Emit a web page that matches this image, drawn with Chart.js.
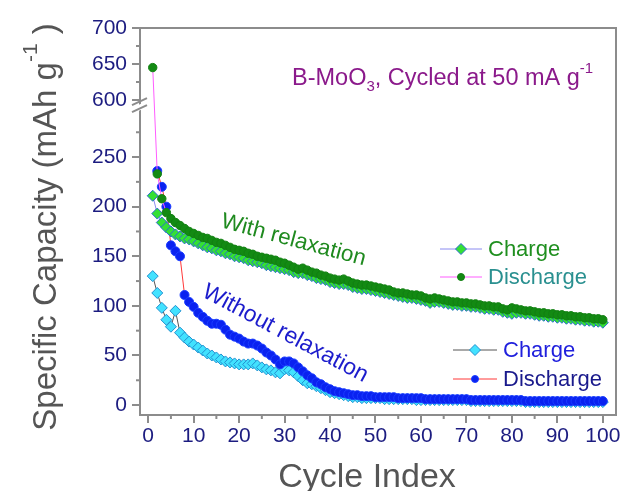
<!DOCTYPE html>
<html>
<head>
<meta charset="utf-8">
<script src="https://cdn.jsdelivr.net/npm/chart.js@4.4.0/dist/chart.umd.min.js"></script>
<style>
  html, body { margin: 0; padding: 0; background: #fff; }
  #wrap { width: 627px; height: 491px; }
</style>
</head>
<body>
<div id="wrap"><canvas id="cap" width="627" height="491"></canvas></div>
<script>
const cycles = [1,2,3,4,5,6,7,8,9,10,11,12,13,14,15,16,17,18,19,20,
  21,22,23,24,25,26,27,28,29,30,31,32,33,34,35,36,37,38,39,40,
  41,42,43,44,45,46,47,48,49,50,51,52,53,54,55,56,57,58,59,60,
  61,62,63,64,65,66,67,68,69,70,71,72,73,74,75,76,77,78,79,80,
  81,82,83,84,85,86,87,88,89,90,91,92,93,94,95,96,97,98,99,100];

// with relaxation
const withCharge = [211,193,184,179,175,172,170,168,167,165,
  163,161,159,158,156,155,153,152,150,149,
  148,146,145,144,143,141,140,139,138,137,
  136,134,133,133,131,130,128,127,126,124,
  123,122,122,121,119,118,117,117,116,115,
  114,113,112,111,110,109,108,108,107,106,
  105,103,104,104,103,102,101,101,100,100,
  99,99,98,97,97,96,96,94,93,92,
  93,93,92,92,91,90,90,89,89,88,
  88,87,87,86,86,85,85,84,84,83];
const withDischarge = [645,233,208,194,188,184,181,178,175,173,
  171,169,168,166,164,163,161,159,157,156,
  155,153,152,150,149,148,147,146,144,143,
  141,139,137,138,136,134,133,131,130,128,
  127,126,127,125,123,122,121,121,120,119,
  118,117,116,114,113,113,112,111,111,110,
  108,107,108,107,106,105,104,104,103,103,
  102,102,101,100,100,99,99,97,96,98,
  97,96,95,95,94,93,93,92,92,91,
  91,90,90,89,89,88,88,87,87,86];

// without relaxation
const withoutCharge = [130,113,98,86,79,95,73,68,64,61,
  58,55,52,50,48,46,44,43,42,41,
  41,41,42,40,38,36,35,33,32,36,
  35,33,29,25,22,21,19,17,15,13,
  12,11,10,9,8,8,7,7,7,7,
  7,6,6,6,6,6,6,6,5,5,
  5,5,5,5,5,5,5,5,5,5,
  4,4,4,4,4,4,4,4,4,4,
  4,4,3,3,3,3,3,3,3,3,
  3,3,3,3,3,3,3,3,3,3];
const withoutDischarge = [null,236,220,200,161,155,150,111,104,99,
  93,89,85,82,82,81,76,71,69,67,
  64,62,62,60,57,53,50,46,41,44,
  44,42,38,34,30,27,23,21,18,16,
  14,13,12,11,10,10,9,9,9,8,
  8,8,8,8,7,7,7,7,7,7,
  6,6,6,6,6,6,6,6,6,6,
  5,5,5,5,5,5,5,5,5,5,
  5,5,4,4,4,4,4,4,4,4,
  4,4,4,4,4,4,4,4,4,4];

const yMajorTicks = [0, 50, 100, 150, 200, 250, 600, 650, 700];
const yMinorTicks = [25, 75, 125, 175, 225, 275, 625, 675];
const xMajorTicks = [0, 10, 20, 30, 40, 50, 60, 70, 80, 90, 100];
const xMinorTicks = [5, 15, 25, 35, 45, 55, 65, 75, 85, 95];

const AXIS = '#8c8c8c';
const TICKTXT = '#1c1c80';
const FONT = '"Liberation Sans", Arial, Helvetica, sans-serif';

// broken y axis: lower part -10..297, upper part 600..700
const LOW_MIN = -10, LOW_MAX = 297, UP_MIN = 600, UP_MAX = 700;
const LOW_TOP = 0.787, UP_BOTTOM = 0.814;

function toDecimal(v) {
  if (v === null || v === undefined || isNaN(v)) return NaN;
  if (v <= LOW_MAX) return (v - LOW_MIN) / (LOW_MAX - LOW_MIN) * LOW_TOP;
  if (v >= UP_MIN) return UP_BOTTOM + (v - UP_MIN) / (UP_MAX - UP_MIN) * (1 - UP_BOTTOM);
  return LOW_TOP + (v - LOW_MAX) / (UP_MIN - LOW_MAX) * (UP_BOTTOM - LOW_TOP);
}
function fromDecimal(d) {
  if (d <= LOW_TOP) return LOW_MIN + d / LOW_TOP * (LOW_MAX - LOW_MIN);
  if (d >= UP_BOTTOM) return UP_MIN + (d - UP_BOTTOM) / (1 - UP_BOTTOM) * (UP_MAX - UP_MIN);
  return LOW_MAX + (d - LOW_TOP) / (UP_BOTTOM - LOW_TOP) * (UP_MIN - LOW_MAX);
}

class BrokenScale extends Chart.LinearScale {
  getPixelForValue(value) { return this.getPixelForDecimal(toDecimal(value)); }
  getValueForPixel(pixel) { return fromDecimal(this.getDecimalForPixel(pixel)); }
}
BrokenScale.id = 'broken';
BrokenScale.defaults = Chart.LinearScale.defaults;
Chart.register(BrokenScale);

function pts(series) {
  return cycles.map((c, i) => ({ x: c, y: series[i] }));
}

function marker(ctx, style, x, y, r, fill, stroke) {
  ctx.beginPath();
  if (style === 'rectRot') {
    ctx.moveTo(x - r, y); ctx.lineTo(x, y - r); ctx.lineTo(x + r, y); ctx.lineTo(x, y + r);
    ctx.closePath();
  } else {
    ctx.arc(x, y, r, 0, Math.PI * 2);
  }
  ctx.fillStyle = fill; ctx.fill();
  ctx.strokeStyle = stroke; ctx.lineWidth = 1; ctx.stroke();
}

// text with sub/superscript parts: [text, size, dy]
function richText(ctx, parts, x, y, color) {
  ctx.fillStyle = color;
  ctx.textBaseline = 'alphabetic';
  ctx.textAlign = 'left';
  let cx = x;
  parts.forEach(p => {
    ctx.font = p[1] + 'px ' + FONT;
    ctx.fillText(p[0], cx, y + p[2]);
    cx += ctx.measureText(p[0]).width;
  });
}
function richWidth(ctx, parts) {
  let w = 0;
  parts.forEach(p => { ctx.font = p[1] + 'px ' + FONT; w += ctx.measureText(p[0]).width; });
  return w;
}

const decor = {
  id: 'decor',
  afterDraw(chart) {
    const { ctx, chartArea: a } = chart;
    const x = chart.scales.x, y = chart.scales.y;
    ctx.save();

    // frame top + right
    ctx.strokeStyle = AXIS; ctx.lineWidth = 2;
    ctx.beginPath();
    ctx.moveTo(a.left, a.top); ctx.lineTo(a.right, a.top); ctx.lineTo(a.right, a.bottom);
    ctx.stroke();

    // minor ticks
    ctx.lineWidth = 2;
    yMinorTicks.forEach(v => {
      const py = y.getPixelForValue(v);
      ctx.beginPath(); ctx.moveTo(a.left - 4, py); ctx.lineTo(a.left, py); ctx.stroke();
    });
    xMinorTicks.forEach(v => {
      const px = x.getPixelForValue(v);
      ctx.beginPath(); ctx.moveTo(px, a.bottom); ctx.lineTo(px, a.bottom + 4); ctx.stroke();
    });

    // axis break
    const yb = (y.getPixelForValue(LOW_MAX) + y.getPixelForValue(UP_MIN)) / 2;
    ctx.fillStyle = '#fff';
    ctx.beginPath();
    ctx.moveTo(a.left - 4, yb + 1); ctx.lineTo(a.left + 4, yb - 3);
    ctx.lineTo(a.left + 4, yb + 3); ctx.lineTo(a.left - 4, yb + 7);
    ctx.closePath(); ctx.fill();
    ctx.strokeStyle = AXIS; ctx.lineWidth = 2;
    ctx.beginPath();
    ctx.moveTo(a.left - 8, yb + 0); ctx.lineTo(a.left + 7, yb - 7);
    ctx.moveTo(a.left - 8, yb + 7); ctx.lineTo(a.left + 7, yb + 0);
    ctx.stroke();

    // axis titles
    ctx.fillStyle = '#555';
    ctx.font = '34px ' + FONT;
    ctx.textAlign = 'center'; ctx.textBaseline = 'alphabetic';
    ctx.fillText('Cycle Index', 367, 487);

    const yTitle = [['Specific Capacity (mAh g', 33, 0], ['-1', 21, -19], [' )', 33, 0]];
    ctx.save();
    ctx.translate(56, 227);
    ctx.rotate(-Math.PI / 2);
    richText(ctx, yTitle, -richWidth(ctx, yTitle) / 2, 0, '#555');
    ctx.restore();

    // annotation
    richText(ctx, [['B-MoO', 23.5, 0], ['3', 15, 6], [', Cycled at 50 mA g', 23.5, 0], ['-1', 15, -12]],
      292, 85, '#8b1a8b');

    // curve labels
    ctx.save();
    ctx.translate(220, 227); ctx.rotate(15 * Math.PI / 180);
    ctx.font = '22.5px ' + FONT; ctx.fillStyle = '#1f8a1f';
    ctx.textAlign = 'left'; ctx.textBaseline = 'alphabetic';
    ctx.fillText('With relaxation', 0, 0);
    ctx.restore();

    ctx.save();
    ctx.translate(201, 296); ctx.rotate(28 * Math.PI / 180);
    ctx.font = '23px ' + FONT; ctx.fillStyle = '#1c1ccc';
    ctx.textAlign = 'left'; ctx.textBaseline = 'alphabetic';
    ctx.fillText('Without relaxation', 0, 0);
    ctx.restore();

    // legends
    const ds = chart.data.datasets;
    const legend = [
      { d: ds[0], x0: 440, x1: 482, y: 249, tx: 488, color: '#1f8f1f', r: 5.5 },
      { d: ds[1], x0: 440, x1: 482, y: 277, tx: 488, color: '#2a9090', r: 3.5 },
      { d: ds[2], x0: 453, x1: 497, y: 350, tx: 503, color: '#2020dd', r: 5.5 },
      { d: ds[3], x0: 453, x1: 497, y: 379, tx: 503, color: '#1a1a8c', r: 3.5 }
    ];
    legend.forEach(l => {
      ctx.strokeStyle = l.d.borderColor; ctx.lineWidth = 1;
      ctx.beginPath(); ctx.moveTo(l.x0, l.y); ctx.lineTo(l.x1, l.y); ctx.stroke();
      marker(ctx, l.d.pointStyle, (l.x0 + l.x1) / 2, l.y, l.r, l.d.pointBackgroundColor, l.d.pointBorderColor);
      ctx.font = '22px ' + FONT; ctx.fillStyle = l.color;
      ctx.textAlign = 'left'; ctx.textBaseline = 'middle';
      ctx.fillText(l.d.label, l.tx, l.y + 1);
    });

    ctx.restore();
  }
};

new Chart(document.getElementById('cap'), {
  type: 'line',
  data: {
    datasets: [
      {
        label: 'Charge',
        data: pts(withCharge),
        borderColor: '#8a8af0', borderWidth: 1,
        pointStyle: 'rectRot', pointRadius: 5.5,
        pointBackgroundColor: '#34e034', pointBorderColor: '#2a6ad0', pointBorderWidth: 1,
        order: 2
      },
      {
        label: 'Discharge',
        data: pts(withDischarge),
        borderColor: '#ff5cff', borderWidth: 1,
        pointStyle: 'circle', pointRadius: 4.2,
        pointBackgroundColor: '#138a13', pointBorderColor: '#118011', pointBorderWidth: 1,
        order: 1
      },
      {
        label: 'Charge',
        data: pts(withoutCharge),
        borderColor: '#555555', borderWidth: 1,
        pointStyle: 'rectRot', pointRadius: 5.5,
        pointBackgroundColor: '#42e2ff', pointBorderColor: '#2290d0', pointBorderWidth: 1,
        order: 4
      },
      {
        label: 'Discharge',
        data: pts(withoutDischarge),
        borderColor: '#ff3838', borderWidth: 1,
        pointStyle: 'circle', pointRadius: 4.5,
        pointBackgroundColor: '#0a22f0', pointBorderColor: '#1a3cff', pointBorderWidth: 1,
        order: 3
      }
    ]
  },
  options: {
    responsive: false,
    animation: false,
    devicePixelRatio: 1,
    layout: { padding: { left: 0, top: 28, right: 11, bottom: 0 } },
    plugins: { legend: { display: false }, tooltip: { enabled: false } },
    scales: {
      x: {
        type: 'linear',
        min: -1.8, max: 102.9,
        afterBuildTicks: s => { s.ticks = xMajorTicks.map(v => ({ value: v })); },
        afterFit: s => { s.height = 76; },
        border: { display: true, color: AXIS, width: 2 },
        grid: { drawOnChartArea: false, drawTicks: true, tickLength: 8, color: AXIS, lineWidth: 2 },
        ticks: { color: TICKTXT, font: { family: FONT, size: 21 }, padding: 1, maxRotation: 0,
          callback: v => String(v) }
      },
      y: {
        type: 'broken',
        min: LOW_MIN, max: UP_MAX,
        afterBuildTicks: s => { s.ticks = yMajorTicks.map(v => ({ value: v })); },
        afterFit: s => { s.width = 140; },
        border: { display: true, color: AXIS, width: 2 },
        grid: { drawOnChartArea: false, drawTicks: true, tickLength: 8, color: AXIS, lineWidth: 2 },
        ticks: { color: TICKTXT, font: { family: FONT, size: 21 }, padding: 5,
          callback: v => String(v) }
      }
    }
  },
  plugins: [decor]
});
</script>
</body>
</html>
